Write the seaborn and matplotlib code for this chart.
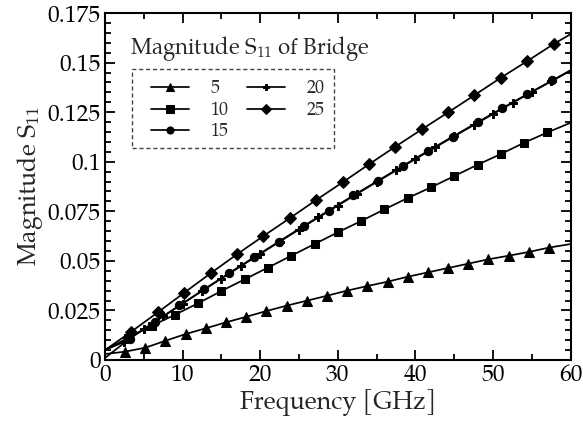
import matplotlib
matplotlib.use("Agg")
import matplotlib.pyplot as plt
from matplotlib import font_manager
from matplotlib.patches import Rectangle
from matplotlib.ticker import MultipleLocator, FuncFormatter
import seaborn as sns

# ── data ──────────────────────────────────────────────────────
freq_5 = [0, 2.6, 5.2, 7.8, 10.4, 13.0, 15.6, 18.2, 20.8, 23.4, 26.0, 28.6,
          31.2, 33.8, 36.4, 39.0, 41.6, 44.2, 46.8, 49.4, 52.0, 54.6, 57.2, 60]
s11_5 = [0.0030, 0.0042, 0.0062, 0.0097, 0.0131, 0.0160, 0.0190, 0.0218,
         0.0247, 0.0274, 0.0299, 0.0324, 0.0350, 0.0373, 0.0395, 0.0420,
         0.0442, 0.0464, 0.0486, 0.0508, 0.0526, 0.0545, 0.0567, 0.0585]

freq_10 = [0, 3, 6, 9, 12, 15, 18, 21, 24, 27, 30, 33, 36, 39, 42, 45, 48,
           51, 54, 57, 60]
s11_10 = [0.0050, 0.0112, 0.0172, 0.0228, 0.0286, 0.0348, 0.0407, 0.0466,
          0.0526, 0.0585, 0.0644, 0.0701, 0.0760, 0.0817, 0.0871, 0.0928,
          0.0985, 0.1039, 0.1096, 0.1148, 0.1197]

freq_15 = [0, 3.2, 6.4, 9.6, 12.8, 16.0, 19.2, 22.4, 25.6, 28.8, 32.0, 35.2,
           38.4, 41.6, 44.8, 48.0, 51.2, 54.4, 57.6, 60]
s11_15 = [0.0010, 0.0108, 0.0192, 0.0275, 0.0357, 0.0438, 0.0518, 0.0597,
          0.0676, 0.0753, 0.0830, 0.0905, 0.0980, 0.1054, 0.1127, 0.1199,
          0.1271, 0.1341, 0.1410, 0.1462]

freq_20 = [0, 2.5, 5.0, 7.5, 10.0, 12.5, 15.0, 17.5, 20.0, 22.5, 25.0, 27.5,
           30.0, 32.5, 35.0, 37.5, 40.0, 42.5, 45.0, 47.5, 50.0, 52.5, 55.0,
           57.5, 60]
s11_20 = [0.0050, 0.0092, 0.0156, 0.0220, 0.0284, 0.0348, 0.0411, 0.0473,
          0.0535, 0.0597, 0.0658, 0.0719, 0.0779, 0.0839, 0.0898, 0.0956,
          0.1014, 0.1072, 0.1129, 0.1185, 0.1241, 0.1297, 0.1352, 0.1406,
          0.1460]

freq_25 = [0, 3.4, 6.8, 10.2, 13.6, 17.0, 20.4, 23.8, 27.2, 30.6, 34.0, 37.4,
           40.8, 44.2, 47.6, 51.0, 54.4, 57.8, 60]
s11_25 = [0.0050, 0.0143, 0.0240, 0.0339, 0.0437, 0.0533, 0.0625, 0.0715,
          0.0807, 0.0896, 0.0987, 0.1076, 0.1163, 0.1249, 0.1336, 0.1424,
          0.1508, 0.1594, 0.1644]

series = [
    ("5", freq_5, s11_5, "^", 6.5),
    ("10", freq_10, s11_10, "s", 6.0),
    ("15", freq_15, s11_15, "o", 6.0),
    ("20", freq_20, s11_20, "P", 5.5),
    ("25", freq_25, s11_25, "D", 6.0),
]

# ── style ─────────────────────────────────────────────────────
sns.set_style("ticks")
available = {f.name for f in font_manager.fontManager.ttflist}
serif = "DejaVu Serif"
for name in ["TeX Gyre Pagella", "P052", "URW Palladio L", "Palatino Linotype"]:
    if name in available:
        serif = name
        break
plt.rcParams["font.family"] = [serif]
plt.rcParams["mathtext.fontset"] = "custom"
plt.rcParams["mathtext.rm"] = serif
plt.rcParams["mathtext.it"] = serif + ":italic"
plt.rcParams["mathtext.default"] = "rm"

fig = plt.figure(figsize=(5.83, 4.32), dpi=100)
ax = fig.add_axes([0.180, 0.1667, 0.799, 0.803])

for label, f, v, m, ms in series:
    sns.lineplot(x=f, y=v, ax=ax, color="black", lw=1.25, marker=m, ms=ms,
                 markevery=slice(1, -1), label=label, estimator=None,
                 sort=False, mec="black", mfc="black")

ax.set_xlim(0, 60)
ax.set_ylim(0, 0.175)
ax.xaxis.set_major_locator(MultipleLocator(10))
ax.xaxis.set_minor_locator(MultipleLocator(5))
ax.yaxis.set_major_locator(MultipleLocator(0.025))
ax.yaxis.set_minor_locator(MultipleLocator(0.005))
ax.yaxis.set_major_formatter(FuncFormatter(lambda y, _: f"{y:g}"))
ax.tick_params(which="both", direction="in", top=True, right=True,
               labelsize=17, colors="black", width=1.3)
ax.tick_params(which="major", length=7, pad=3)
ax.tick_params(which="minor", length=4)
for sp in ax.spines.values():
    sp.set_linewidth(1.5)
    sp.set_color("black")

ax.set_xlabel("Frequency [GHz]", fontsize=18, labelpad=1)
ax.set_ylabel(r"Magnitude S$_{11}$", fontsize=18, labelpad=2)

# legend: title above a dashed box
ax.text(0.054, 0.899, r"Magnitude S$_{11}$ of Bridge", transform=ax.transAxes,
        fontsize=16, va="center", ha="left")
ax.add_patch(Rectangle((0.058, 0.611), 0.433, 0.2277, transform=ax.transAxes,
                       fill=False, ls=(0, (3, 2)), lw=1.0, ec="#444444"))
ax.legend(loc="upper left", bbox_to_anchor=(0.099, 0.808), ncol=2,
          frameon=False, fontsize=13, handlelength=2.1, handletextpad=1.2,
          columnspacing=1.0, labelspacing=0.15, borderpad=0, borderaxespad=0,
          markerscale=0.85)

fig.savefig("out.png", dpi=100)
